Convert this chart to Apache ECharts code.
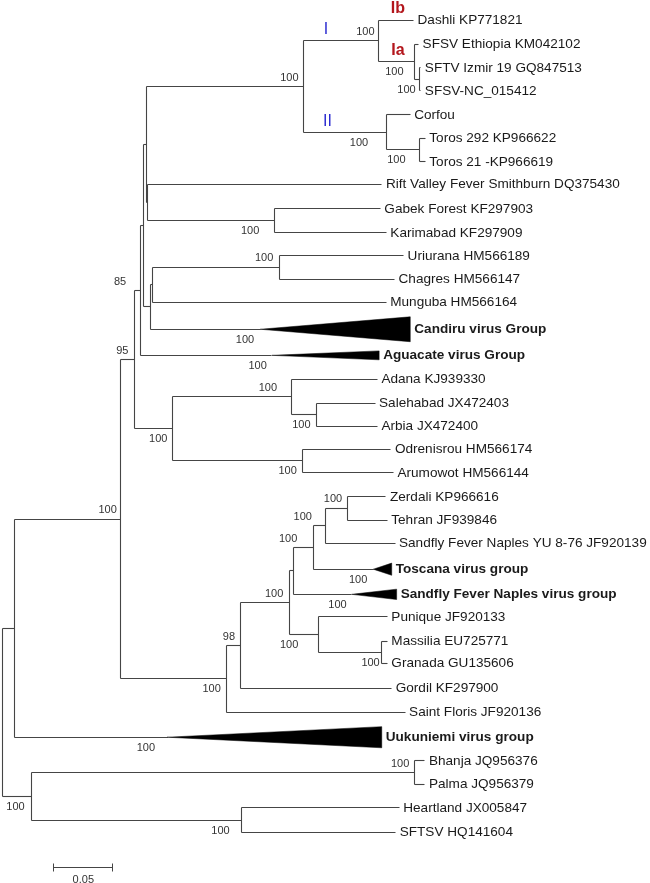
<!DOCTYPE html>
<html><head><meta charset="utf-8">
<script src="https://cdn.jsdelivr.net/npm/echarts@6/dist/echarts.min.js"></script>
<style>html,body{margin:0;padding:0;background:#fff}#c{width:650px;height:883px}</style>
</head><body><div id="c"></div>
<script>
// ---------------- DATA ----------------
// Tree topology (preorder) with branch lengths (substitutions/site)
const nodeNames = ['root','P','A','N95','N85','Z','X','I_II','NI','Dashli','Ia','Ethiopia','IzNC','Izmir','NC',
  'NII','Corfou','Toros','Toros292','Toros21','Y','RVF','GK','Gabek','Karimabad','V','W','UC','Uriurana','Chagres',
  'Munguba','Candiru','Aguacate','AO','ASA','Adana','SA','Salehabad','Arbia','OA','Odrenisrou','Arumowot',
  'S','N98','R','Q','ZTST','ZTS','ZT','Zerdali','Tehran','SFNYU','Toscana','SFNgroup','PMG','Punique','MG',
  'Massilia','Granada','Gordil','SaintFloris','Uukuniemi','BPHS','BP','Bhanja','Palma','HS','Heartland','SFTSV'];
const nodeParents = [null,'root','P','A','N95','N85','Z','X','I_II','NI','NI','Ia','Ia','IzNC','IzNC',
  'I_II','NII','NII','Toros','Toros','X','Y','Y','GK','GK','Z','V','W','UC','UC',
  'W','V','N85','N95','AO','ASA','ASA','SA','SA','AO','OA','OA',
  'A','S','N98','R','Q','ZTST','ZTS','ZT','ZT','ZTS','ZTST','Q','R','PMG','PMG',
  'MG','MG','N98','S','P','root','BPHS','BP','BP','BPHS','HS','HS'];
const branchLengths = [0,0.0106,0.0903,0.0116,0.0049,0.0026,0.0032,0.1334,0.0639,0.0298,0.0307,0.0034,0.0043,0.0010,0.0010,
  0.0704,0.0204,0.0284,0.0049,0.0049,0.0009,0.1993,0.1076,0.0903,0.0954,0.0060,0.0017,0.1082,0.1059,0.0982,
  0.1993,0.0937,0.1122,0.0324,0.1011,0.0735,0.0217,0.0498,0.0518,0.1111,0.0750,0.0772,
  0.0903,0.0113,0.0420,0.0034,0.0170,0.0108,0.0181,0.0330,0.0341,0.0588,0.0511,0.0497,0.0247,0.0588,0.0540,
  0.0048,0.0048,0.1292,0.1519,0.1297,0.0250,0.3259,0.0091,0.0091,0.1789,0.1342,0.1312];

// Leaves: display label and vertical row
const leafIds = ['Dashli','Ethiopia','Izmir','NC','Corfou','Toros292','Toros21','RVF','Gabek','Karimabad',
  'Uriurana','Chagres','Munguba','Candiru','Aguacate','Adana','Salehabad','Arbia','Odrenisrou','Arumowot',
  'Zerdali','Tehran','SFNYU','Toscana','SFNgroup','Punique','Massilia','Granada','Gordil','SaintFloris',
  'Uukuniemi','Bhanja','Palma','Heartland','SFTSV'];
const leafLabels = ['Dashli KP771821','SFSV Ethiopia KM042102','SFTV Izmir 19 GQ847513','SFSV-NC_015412','Corfou',
  'Toros 292 KP966622','Toros 21 -KP966619','Rift Valley Fever Smithburn DQ375430','Gabek Forest KF297903','Karimabad KF297909',
  'Uriurana HM566189','Chagres HM566147','Munguba HM566164','Candiru virus Group','Aguacate virus Group','Adana KJ939330',
  'Salehabad JX472403','Arbia JX472400','Odrenisrou HM566174','Arumowot HM566144','Zerdali KP966616','Tehran JF939846',
  'Sandfly Fever Naples YU 8-76 JF920139','Toscana virus group','Sandfly Fever Naples virus group','Punique JF920133',
  'Massilia EU725771','Granada GU135606','Gordil KF297900','Saint Floris JF920136','Uukuniemi virus group',
  'Bhanja JQ956376','Palma JQ956379','Heartland JX005847','SFTSV HQ141604'];
const leafRows = [0,1.03,2.03,3.01,4.04,5.03,6.03,6.99,8.04,9.05,10.03,11.03,12.0,13.16,14.27,15.28,16.31,17.28,18.26,19.26,
  20.29,21.28,22.27,23.37,24.44,25.39,26.43,27.37,28.44,29.46,30.52,31.52,32.52,33.52,34.57];

// Collapsed groups (triangles): depth span and half-height in rows
const groupIds = ['Candiru','Aguacate','Toscana','SFNgroup','Uukuniemi'];
const groupSpans = [0.1278,0.0914,0.0157,0.0383,0.1829];
const groupHalfRows = [0.53,0.19,0.26,0.22,0.45];

// Bootstrap support values
const supportNodes = ['I_II','NI','Ia','IzNC','NII','Toros','GK','UC','N85','N95','Candiru','Aguacate','AO','ASA','SA','OA',
  'A','ZT','ZTS','ZTST','Toscana','SFNgroup','R','PMG','MG','N98','S','Uukuniemi','BP','BPHS','HS'];
const supportValues = [100,100,100,100,100,100,100,100,85,95,100,100,100,100,100,100,
  100,100,100,100,100,100,100,100,100,98,100,100,100,100,100];

// Clade annotations
const cladeNodes = ['NI','NII','Dashli','Ia'];
const cladeTexts = ['I','II','Ib','Ia'];

const scaleBarValue = 0.05;
const scaleBarText = '0.05';

// ---------------- LAYOUT / STYLE ----------------
const supportSides = {I_II:'a',NI:'a',Ia:'b',IzNC:'b',NII:'b',Toros:'b',GK:'b',UC:'a',N85:'a',N95:'a',Candiru:'b',Aguacate:'b',
  AO:'b',ASA:'a',SA:'b',OA:'b',A:'a',ZT:'a',ZTS:'a',ZTST:'a',Toscana:'b',SFNgroup:'b',R:'a',PMG:'b',MG:'b',N98:'a',S:'b',
  Uukuniemi:'b',BP:'a',BPHS:'b',HS:'b'};
const supportNudge = {I_II:5,NI:4,Ia:11,IzNC:4,NII:18,Toros:14,GK:15,UC:6,N85:14,N95:6,Candiru:6,Aguacate:5,AO:5,ASA:14,
  SA:6,OA:6,A:4,ZT:5,ZTS:14,ZTST:16,Toscana:6,SFNgroup:5,R:6,PMG:20,MG:2,N98:5,S:6,Uukuniemi:12,BP:5,BPHS:7,HS:12};
const cladeColors = ['#2b2bd0','#2b2bd0','#b3161c','#b3161c'];
const cladeFrac = [0.3,0.29,0.55,0.54];
const scaleBarStart = 0.044, scaleBarRow = 36.06;
const LINE = '#454545';
const FONT = "'Liberation Sans', Arial, sans-serif";
const LABEL_STRETCH = 1.045;

// ---------------- BUILD ----------------
const idx = {}; nodeNames.forEach((n,i)=>idx[n]=i);
const children = nodeNames.map(()=>[]);
nodeParents.forEach((p,i)=>{ if(p) children[idx[p]].push(i); });
const depth = [];
nodeNames.forEach((n,i)=>{ depth[i] = nodeParents[i] ? depth[idx[nodeParents[i]]] + branchLengths[i] : 0; });
const rowOf = {}; leafIds.forEach((id,k)=>rowOf[id]=leafRows[k]);
const yOf = [];
function computeY(i){
  const c = children[i];
  if(!c.length) return (yOf[i] = rowOf[nodeNames[i]]);
  c.forEach(computeY);
  return (yOf[i] = (yOf[c[0]] + yOf[c[c.length-1]]) / 2);
}
computeY(0);
const groupOf = {}; groupIds.forEach((g,k)=>groupOf[g]=k);

const segData = [];
nodeNames.forEach((n,i)=>{
  const p = nodeParents[i];
  if(p) segData.push([depth[idx[p]], yOf[i], depth[i], yOf[i]]);
  const c = children[i];
  if(c.length) segData.push([depth[i], yOf[c[0]], depth[i], yOf[c[c.length-1]]]);
});
const triData = groupIds.map((g,k)=>{ const i=idx[g]; return [depth[i], yOf[i], depth[i]+groupSpans[k], groupHalfRows[k]]; });
const leafData = leafIds.map((id,k)=>{ const i=idx[id]; const g=groupOf[id]; return [depth[i] + (g!==undefined?groupSpans[g]:0), yOf[i]]; });
const supData = supportNodes.map(n=>{ const i=idx[n]; return [depth[i], yOf[i]]; });
const cladeData = cladeNodes.map(n=>{ const i=idx[n]; return [depth[idx[nodeParents[i]]], depth[i], yOf[i]]; });

const snap = v => Math.round(v - 0.5) + 0.5;

const chart = echarts.init(document.getElementById('c'), null, {renderer:'canvas'});
chart.setOption({
  animation:false,
  backgroundColor:'#fff',
  grid:{left:2.3, right:2.0, top:8.25, bottom:5.25},
  xAxis:{type:'value', min:0, max:0.55, show:false, splitLine:{show:false}},
  yAxis:{type:'value', min:-0.5, max:36.5, inverse:true, show:false, splitLine:{show:false}},
  series:[
    {type:'custom', data:segData, silent:true, renderItem:(p,api)=>{
      const a=api.coord([api.value(0),api.value(1)]), b=api.coord([api.value(2),api.value(3)]);
      return {type:'line', shape:{x1:snap(a[0]),y1:snap(a[1]),x2:snap(b[0]),y2:snap(b[1])}, style:{stroke:LINE,lineWidth:1.1}};
    }},
    {type:'custom', data:triData, silent:true, renderItem:(p,api)=>{
      const t=api.coord([api.value(0),api.value(1)]);
      const e1=api.coord([api.value(2),api.value(1)-api.value(3)]);
      const e2=api.coord([api.value(2),api.value(1)+api.value(3)]);
      return {type:'polygon', shape:{points:[t,e1,e2]}, style:{fill:'#000',stroke:'#000',lineWidth:0.5}};
    }},
    {type:'custom', data:leafData, silent:true, renderItem:(p,api)=>{
      const c=api.coord([api.value(0),api.value(1)]);
      const id=leafIds[p.dataIndex]; const bold=groupOf[id]!==undefined;
      return {type:'text', x:c[0]+4, y:c[1]+0.5, scaleX:LABEL_STRETCH,
        style:{text:leafLabels[p.dataIndex], x:0, y:0, fill:'#1a1a1a',
        font:(bold?'bold ':'')+'13px '+FONT, align:'left', verticalAlign:'middle'}};
    }},
    {type:'custom', data:supData, silent:true, renderItem:(p,api)=>{
      const c=api.coord([api.value(0),api.value(1)]);
      const n=supportNodes[p.dataIndex];
      const above=supportSides[n]==='a';
      return {type:'text', style:{text:String(supportValues[p.dataIndex]), x:c[0]-(supportNudge[n]||5), y:c[1]+(above?-9:10.5),
        fill:'#333', font:'11px '+FONT, align:'right', verticalAlign:'middle'}};
    }},
    {type:'custom', data:cladeData, silent:true, renderItem:(p,api)=>{
      const k=p.dataIndex; const f=cladeFrac[k];
      const c=api.coord([api.value(0)+(api.value(1)-api.value(0))*f, api.value(2)]);
      return {type:'text', style:{text:cladeTexts[k], x:c[0], y:c[1]-11, fill:cladeColors[k],
        font:(k>=2?'bold ':'')+'16px '+FONT, align:'center', verticalAlign:'middle'}};
    }},
    {type:'custom', data:[[scaleBarStart, scaleBarRow]], silent:true, renderItem:(p,api)=>{
      const a=api.coord([api.value(0),api.value(1)]), b=api.coord([api.value(0)+scaleBarValue,api.value(1)]);
      const y=snap(a[1]);
      return {type:'group', children:[
        {type:'line', shape:{x1:snap(a[0]),y1:y,x2:snap(b[0]),y2:y}, style:{stroke:LINE,lineWidth:1}},
        {type:'line', shape:{x1:snap(a[0]),y1:y-4,x2:snap(a[0]),y2:y+4}, style:{stroke:LINE,lineWidth:1}},
        {type:'line', shape:{x1:snap(b[0]),y1:y-4,x2:snap(b[0]),y2:y+4}, style:{stroke:LINE,lineWidth:1}},
        {type:'text', style:{text:scaleBarText, x:(a[0]+b[0])/2, y:y+12, fill:'#333', font:'11px '+FONT, align:'center', verticalAlign:'middle'}}
      ]};
    }}
  ]
});
</script></body></html>
